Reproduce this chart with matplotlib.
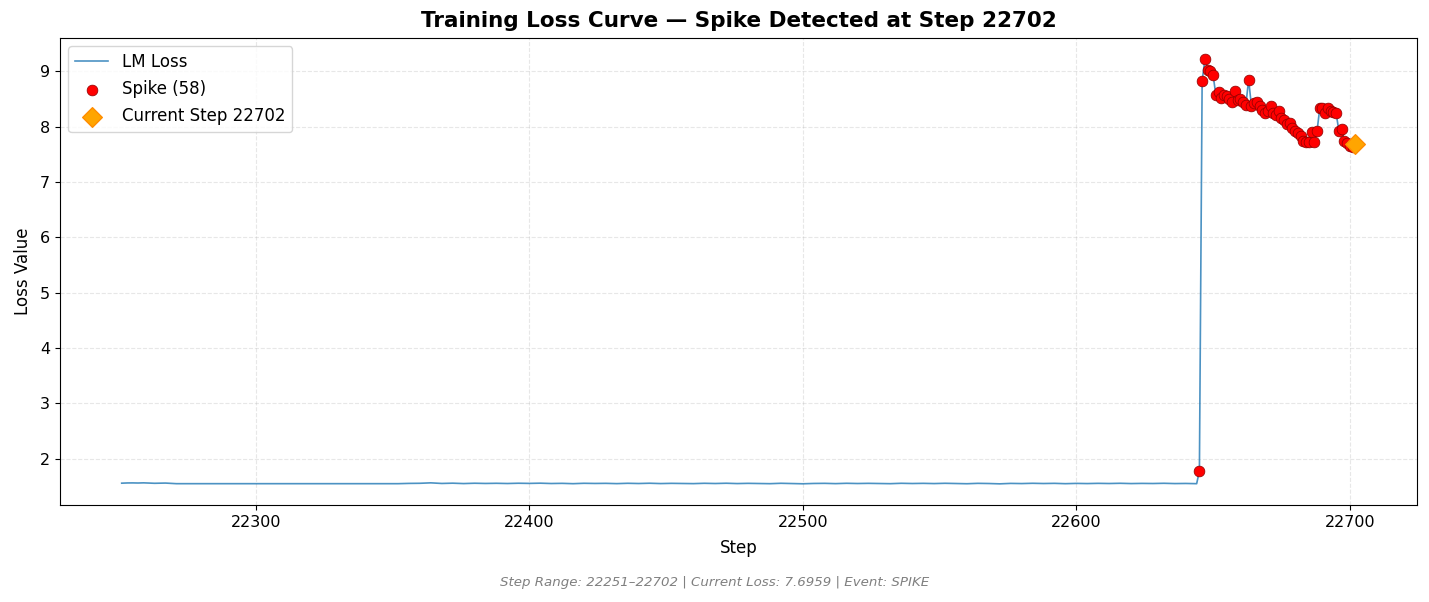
import matplotlib
matplotlib.use("Agg")
import matplotlib.pyplot as plt

# baseline loss before the spike (sparse where the line is flat)
base_steps = [22251, 22253, 22255, 22257, 22259, 22261, 22263, 22265, 22267, 22269, 22271,
              22352, 22356, 22360, 22364, 22368, 22372, 22376, 22380, 22384, 22388,
              22392, 22396, 22400, 22404, 22408, 22412, 22416, 22420, 22424, 22428,
              22432, 22436, 22440, 22444, 22448, 22452, 22456, 22460, 22464, 22468,
              22472, 22476, 22480, 22484, 22488, 22492, 22496, 22500, 22504, 22508,
              22512, 22516, 22520, 22524, 22528, 22532, 22536, 22540, 22544, 22548,
              22552, 22556, 22560, 22564, 22568, 22572, 22576, 22580, 22584, 22588,
              22592, 22596, 22600, 22604, 22608, 22612, 22616, 22620, 22624, 22628,
              22632, 22636, 22640, 22644]
base_loss = [1.558, 1.562, 1.563, 1.561, 1.564, 1.560, 1.556, 1.559, 1.560, 1.555, 1.549,
             1.549, 1.554, 1.556, 1.564, 1.553, 1.558, 1.551, 1.557, 1.553, 1.556,
             1.552, 1.557, 1.554, 1.558, 1.552, 1.555, 1.549, 1.556, 1.553, 1.555,
             1.550, 1.556, 1.552, 1.557, 1.551, 1.555, 1.553, 1.550, 1.556, 1.552,
             1.557, 1.551, 1.555, 1.553, 1.549, 1.556, 1.552, 1.547, 1.553, 1.555,
             1.550, 1.556, 1.552, 1.555, 1.553, 1.549, 1.556, 1.552, 1.555, 1.551,
             1.556, 1.553, 1.548, 1.555, 1.552, 1.546, 1.554, 1.551, 1.556, 1.552,
             1.555, 1.549, 1.554, 1.551, 1.555, 1.552, 1.556, 1.551, 1.554, 1.552,
             1.556, 1.551, 1.553, 1.549]

# spike region, every step flagged as spike
spike_steps = list(range(22645, 22703))
spike_loss = [1.78, 8.82, 9.22, 9.02, 9.00, 8.93, 8.58, 8.62, 8.52, 8.58,
              8.55, 8.50, 8.45, 8.64, 8.48, 8.50, 8.45, 8.40, 8.85, 8.38,
              8.42, 8.45, 8.38, 8.30, 8.25, 8.28, 8.38, 8.25, 8.22, 8.28,
              8.15, 8.12, 8.05, 8.07, 7.98, 7.92, 7.88, 7.83, 7.75, 7.72,
              7.72, 7.90, 7.72, 7.92, 8.33, 8.33, 8.25, 8.33, 8.28, 8.27,
              8.24, 7.92, 7.95, 7.75, 7.70, 7.65, 7.63, 7.6959]

current_step = 22702
current_loss = 7.6959

steps = base_steps + spike_steps
loss = base_loss + spike_loss

fig, ax = plt.subplots(figsize=(14.29, 6.02), dpi=100)
ax.plot(steps, loss, color="#1f77b4", linewidth=1.2, alpha=0.8, label="LM Loss")
ax.scatter(spike_steps, spike_loss, color="red", edgecolors="darkred", linewidths=0.5,
           s=60, zorder=5, label=f"Spike ({len(spike_steps)})")
ax.scatter([current_step], [current_loss], color="orange", edgecolors="darkorange",
           marker="D", s=100, zorder=6, label=f"Current Step {current_step}")

ax.set_title(f"Training Loss Curve \u2014 Spike Detected at Step {current_step}",
             fontsize=15.5, fontweight="bold", pad=8)
ax.set_xlabel("Step", fontsize=12, labelpad=6.5)
ax.set_ylabel("Loss Value", fontsize=12, labelpad=6)
ax.grid(True, linestyle="--", alpha=0.3)
ax.legend(loc="upper left", fontsize=12, labelspacing=0.55)
ax.tick_params(labelsize=11.5)

fig.text(0.5, 0.027, f"Step Range: {steps[0]}\u2013{steps[-1]} | Current Loss: {current_loss:.4f} | Event: SPIKE",
         ha="center", fontsize=9.6, color="gray", style="italic")

fig.subplots_adjust(left=0.042, right=0.9916, top=0.937, bottom=0.161)
fig.savefig("out.png", dpi=100)
